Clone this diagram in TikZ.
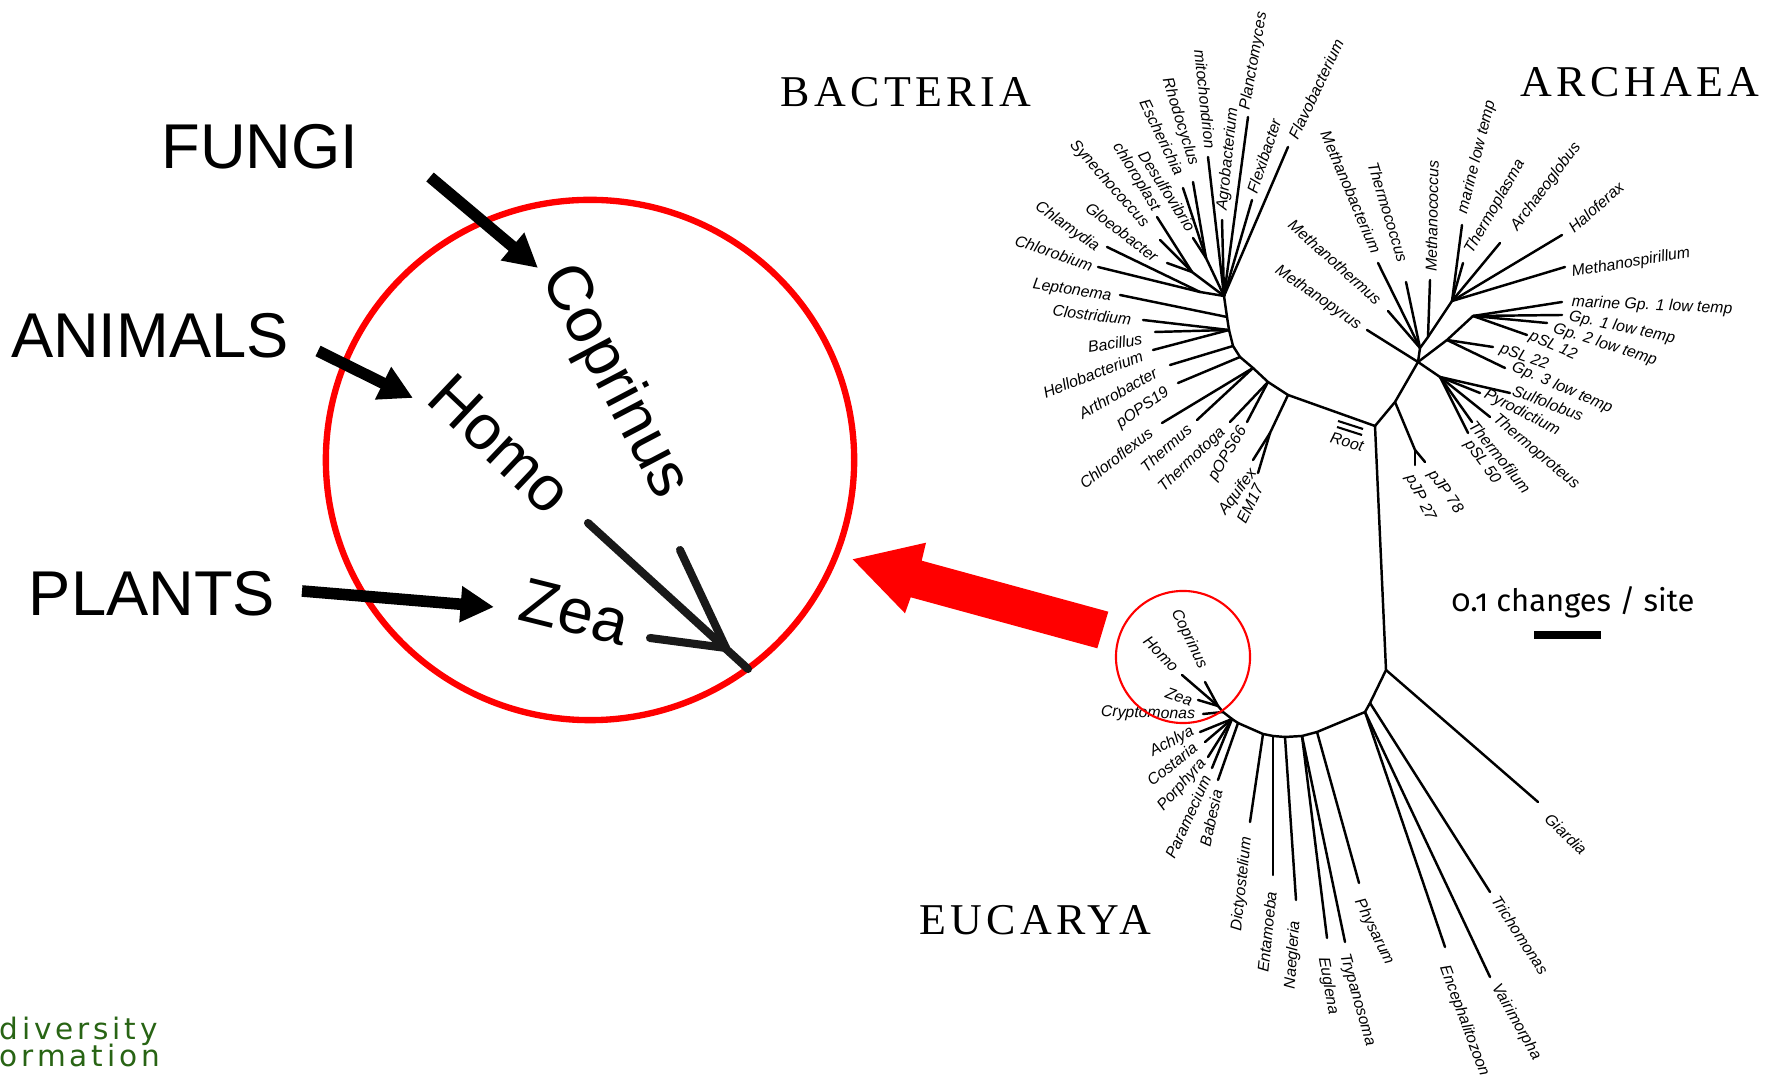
\documentclass[tikz,border=0pt]{standalone}
\usepackage{fontspec}
\setmainfont{Liberation Sans}
\newfontfamily\domfont[LetterSpace=10]{Liberation Serif}
\newfontfamily\barfont[Numbers=OldStyle]{Fira Sans}
\newfontfamily\greenfont[LetterSpace=13]{DejaVu Sans}
\usetikzlibrary{arrows.meta,shapes.geometric}
\definecolor{leafgreen}{RGB}{40,100,20}
\definecolor{pured}{RGB}{255,0,0}
\newcommand\tleaf[6]{%
  \coordinate (#1) at (#2);
  \draw[br] (#3) -- (#1);
  \node[lab,rotate=#5] (#1-l) at (#4) {#6};}
\begin{document}
\begin{tikzpicture}[x=0.01cm,y=-0.01cm,
  br/.style={line width=0.7pt,line cap=round,line join=round},
  lab/.style={font=\itshape\fontsize{4.5}{5}\selectfont,inner sep=0pt},
  big/.style={font=\fontsize{18}{20}\selectfont,inner sep=0pt},
  inset/.style={font=\fontsize{18}{20}\selectfont,inner sep=0pt},
  dom/.style={font=\domfont\fontsize{12.5}{14}\selectfont,inner sep=0pt,anchor=base},
  blackarrow/.style={line width=3.3pt,-{Triangle[length=9.5pt,width=9.7pt]}},
  insetbranch/.style={line width=2.3pt,line cap=round,black!90},
  greentext/.style={font=\greenfont\fontsize{8.4}{10}\selectfont,text=leafgreen,inner sep=0pt,anchor=base west}]
\fill[white] (0,0) rectangle (1767,1077);
\useasboundingbox (0,0) rectangle (1767,1077);

% ---------- domain headings ----------
\node[dom] (bact) at (906,107) {BACTERIA};
\node[dom] (arch) at (1640,97) {ARCHAEA};
\node[dom] (euca) at (1035,935) {EUCARYA};

% ---------- bacteria ----------
\coordinate (R) at (1375,426);
\coordinate (b1) at (1224,296);
\coordinate (b2) at (1227,317);
\coordinate (b3) at (1229,330);
\coordinate (b4) at (1233,346);
\coordinate (b5) at (1240,357);
\coordinate (b6) at (1253,368);
\coordinate (b7) at (1268,382);
\coordinate (b8) at (1288,395);
\coordinate (pa) at (1206,258);
\coordinate (cy) at (1192,272);
\coordinate (ch) at (1200,292);
\coordinate (aq) at (1270,433);
\draw[br] (b1)--(b2)--(b3)--(b4)--(b5)--(b6)--(b7)--(b8)--(R);
\draw[br] (pa)--(b1);
\draw[br] (cy)--(b1);
\draw[br] (ch)--(b1);
\draw[br] (aq)--(b8);
\tleaf{planc}{1248,117}{b1}{1254,61}{80}{Planctomyces}
\tleaf{flavo}{1288,147}{b1}{1316,89}{64.6}{Flavobacterium}
\tleaf{flexi}{1252,200}{b1}{1264,156}{71.6}{Flexibacter}
\tleaf{agro}{1222,220}{b1}{1228,159}{84}{Agrobacterium}
\tleaf{mito}{1208,157}{b1}{1205,99}{-84}{mitochondrion}
\tleaf{rhodo}{1193,182}{pa}{1180,122}{-72.6}{Rhodocyclus}
\tleaf{esch}{1183,188}{pa}{1162,137}{-64}{Escherichia}
\tleaf{desulf}{1193,238}{pa}{1167,191}{-57.4}{Desulfovibrio}
\tleaf{chlpl}{1157,217}{cy}{1136,177}{-58.6}{chloroplast}
\tleaf{syn}{1160,240}{cy}{1109,184}{-48.6}{Synechococcus}
\tleaf{gloeo}{1167,263}{cy}{1122,232}{-37.5}{Gloeobacter}
\tleaf{chlam}{1107,247}{ch}{1067,227}{-35.7}{Chlamydia}
\tleaf{chlorob}{1098,267}{ch}{1054,253}{-18.8}{Chlorobium}
\tleaf{lepto}{1120,295}{b2}{1072,291}{-8.5}{Leptonema}
\tleaf{clost}{1143,320}{b3}{1092,315}{-7.3}{Clostridium}
\tleaf{bacil}{1155,332}{b3}{1115,343}{8.6}{Bacillus}
\tleaf{hello}{1153,350}{b3}{1093,374}{21}{Hellobacterium}
\tleaf{arthro}{1170,365}{b4}{1118,393}{29.5}{Arthrobacter}
\tleaf{pops19}{1178,383}{b5}{1143,408}{34.5}{pOPS19}
\tleaf{chflex}{1162,423}{b6}{1116,458}{38.3}{Chloroflexus}
\tleaf{therm}{1197,420}{b6}{1166,448}{41.9}{Thermus}
\tleaf{tmtoga}{1230,422}{b7}{1192,460}{43.5}{Thermotoga}
\tleaf{pops66}{1247,422}{b7}{1228,454}{58.8}{pOPS66}
\tleaf{aquif}{1253,460}{aq}{1238,492}{53.7}{Aquifex}
\tleaf{em17}{1258,473}{aq}{1250,504}{64.4}{EM17}

% root mark
\node[lab,rotate=-15] (rootl) at (1347,442) {Root};
\coordinate (rm1a) at (1338,421); \coordinate (rm1b) at (1363,429);
\coordinate (rm2a) at (1337,427); \coordinate (rm2b) at (1362,435);
\draw[line width=0.6pt] (rm1a)--(rm1b);
\draw[line width=0.6pt] (rm2a)--(rm2b);

% ---------- archaea ----------
\coordinate (a1) at (1395,402);
\coordinate (s) at (1418,362);
\coordinate (cn) at (1440,377);
\coordinate (pj) at (1415,450);
\coordinate (y) at (1420,348);
\coordinate (mc) at (1428,337);
\coordinate (e2) at (1452,301);
\coordinate (a3) at (1447,340);
\coordinate (gn) at (1473,316);
\draw[br] (R)--(a1)--(s);
\draw[br] (a1)--(pj);
\draw[br] (s)--(cn);
\draw[br] (s)--(y)--(mc)--(e2);
\draw[br] (s)--(a3)--(gn);
\tleaf{mbact}{1378,263}{y}{1351,192}{-67}{Methanobacterium}
\tleaf{tcoc}{1406,282}{y}{1388,212}{-73}{Thermococcus}
\tleaf{mcoc}{1430,280}{mc}{1432,216}{89}{Methanococcus}
\tleaf{mlt}{1462,225}{e2}{1477,157}{76}{marine low temp}
\tleaf{tpl}{1463,263}{e2}{1495,207}{60.3}{Thermoplasma}
\tleaf{archg}{1500,243}{e2}{1546,187}{53}{Archaeoglobus}
\tleaf{halo}{1562,235}{e2}{1596,207}{41.3}{Haloferax}
\tleaf{mspir}{1565,267}{e2}{1631,263}{9.6}{Methanospirillum}
\tleaf{mtherm}{1388,311}{y}{1335,262}{-42}{Methanothermus}
\tleaf{mpyr}{1367,330}{s}{1318,298}{-34.6}{Methanopyrus}
\tleaf{mgp1}{1562,302}{gn}{1652,306}{-2.4}{marine Gp. 1 low temp}
\tleaf{gp1}{1562,315}{gn}{1622,328}{-12.3}{Gp. 1 low temp}
\tleaf{gp2}{1547,323}{gn}{1605,345}{-17.9}{Gp. 2 low temp}
\tleaf{psl12}{1527,335}{gn}{1553,346}{-23.4}{pSL 12}
\tleaf{psl22}{1493,347}{a3}{1524,357.5}{-19.5}{pSL 22}
\tleaf{gp3}{1505,368}{a3}{1562,388}{-23.4}{Gp. 3 low temp}
\tleaf{sulfo}{1510,393}{cn}{1548,403}{-20.9}{Sulfolobus}
\tleaf{pyro}{1480,393}{cn}{1522,413}{-27}{Pyrodictium}
\tleaf{tprot}{1490,417}{cn}{1536,452}{-40}{Thermoproteus}
\tleaf{tfil}{1472,422}{cn}{1500,457}{-51}{Thermofilum}
\tleaf{psl50}{1468,433}{cn}{1482,462}{-53.8}{pSL 50}
\tleaf{pjp78}{1425,462}{pj}{1445,492}{-55}{pJP 78}
\tleaf{pjp27}{1415,465}{pj}{1420,498}{-63.4}{pJP 27}

% ---------- eucarya ----------
\coordinate (EJ) at (1386,670);
\coordinate (u1) at (1370,703);
\coordinate (u2) at (1365,712);
\coordinate (u3) at (1317,732);
\coordinate (u4) at (1302,736);
\coordinate (u5) at (1285,737);
\coordinate (u6) at (1273,736);
\coordinate (u7) at (1263,734);
\coordinate (u8) at (1238,723);
\coordinate (u9) at (1232,719);
\coordinate (u10) at (1223,712);
\coordinate (zn) at (1218,706);
\draw[br] (R)--(EJ);
\draw[br] (EJ)--(u1)--(u2)--(u3)--(u4)--(u5)--(u6)--(u7)--(u8)--(u9)--(u10);
\draw[br] (zn)--(u10);
\tleaf{giardia}{1538,802}{EJ}{1566,834}{-43.7}{Giardia}
\tleaf{tricho}{1490,892}{u1}{1520,935}{-56.9}{Trichomonas}
\tleaf{enceph}{1445,947}{u2}{1464,1021}{-69.6}{Encephalitozoon}
\tleaf{vair}{1490,977}{u2}{1516,1022}{-60.4}{Vairimorpha}
\tleaf{phys}{1359,883}{u3}{1374,932}{-64}{Physarum}
\tleaf{trypa}{1345,942}{u4}{1357,1000}{-74}{Trypanosoma}
\tleaf{eugl}{1327,938}{u4}{1328,986}{-80}{Euglena}
\tleaf{naeg}{1296,900}{u5}{1293,955}{86}{Naegleria}
\tleaf{entam}{1273,875}{u6}{1267,932}{84}{Entamoeba}
\tleaf{dicty}{1250,822}{u7}{1242,884}{83.8}{Dictyostelium}
\tleaf{babes}{1218,780}{u8}{1211,818}{77.7}{Babesia}
\tleaf{param}{1212,768}{u9}{1188,817}{65.4}{Paramecium}
\tleaf{porph}{1208,757}{u9}{1182,785}{48}{Porphyra}
\tleaf{costa}{1205,742}{u9}{1172,764}{38.4}{Costaria}
\tleaf{achl}{1200,732}{u9}{1172,742}{28.3}{Achlya}
\tleaf{crypto}{1203,714}{u10}{1148,714}{-1.6}{Cryptomonas}
\tleaf{zeas}{1198,700}{zn}{1179,697}{-19.4}{Zea}
\tleaf{coprs}{1205,682}{zn}{1189,639}{-64}{Coprinus}
\tleaf{homos}{1182,675}{zn}{1161,654}{-45}{Homo}

% small red circle
\node[draw=pured,line width=0.6pt,ellipse,minimum width=1.34cm,minimum height=1.32cm,inner sep=0pt] (smallring) at (1183,657) {};

% scale bar
\node[font=\barfont\fontsize{8.8}{10}\selectfont,inner sep=0pt,anchor=base] (scaletxt) at (1573,612) {0.1 changes / site};
\coordinate (sb1) at (1534,635); \coordinate (sb2) at (1601,635);
\draw[line width=2pt] (sb1)--(sb2);

% ---------- big red arrow ----------
\fill[pured] (852.7,559.3) -- (926,542.7) -- (921.7,560.7) -- (1108.3,611.7)
  -- (1097.3,648.3) -- (910.7,597.3) -- (905,613.3) -- cycle;

% ---------- big inset ----------
\node[draw=pured,line width=1.8pt,ellipse,minimum width=5.28cm,minimum height=5.2cm,inner sep=0pt] (bigring) at (590,460) {};
\node[inset,rotate=-62.3] (coprb) at (614,382) {Coprinus};
\node[inset,rotate=-43.5] (homob) at (501,444) {Homo};
\node[inset,rotate=-14] (zeab) at (575,612) {Zea};
\coordinate (lb1) at (588,523); \coordinate (lb2) at (748,669);
\coordinate (vb) at (726,648);
\coordinate (cb1) at (680,550);
\coordinate (zb1) at (650,638);
\draw[insetbranch] (lb1)--(lb2);
\draw[insetbranch] (cb1)--(vb);
\draw[insetbranch] (zb1)--(vb);

% ---------- group labels and arrows ----------
\node[big] (fungi) at (260,147) {FUNGI};
\node[big] (animals) at (150,336) {ANIMALS};
\node[big] (plants) at (152,594) {PLANTS};
\coordinate (fa1) at (430,177); \coordinate (fa2) at (538,268);
\coordinate (aa1) at (318,351); \coordinate (aa2) at (413,398);
\coordinate (pa1) at (302,591); \coordinate (pa2) at (494,607);
\draw[blackarrow] (fa1)--(fa2);
\draw[blackarrow] (aa1)--(aa2);
\draw[blackarrow] (pa1)--(pa2);

% ---------- green logo text ----------
\node[greentext] (div) at (-1,1040) {diversity};
\node[greentext] (orm) at (-1,1067) {ormation};
\end{tikzpicture}
\end{document}
